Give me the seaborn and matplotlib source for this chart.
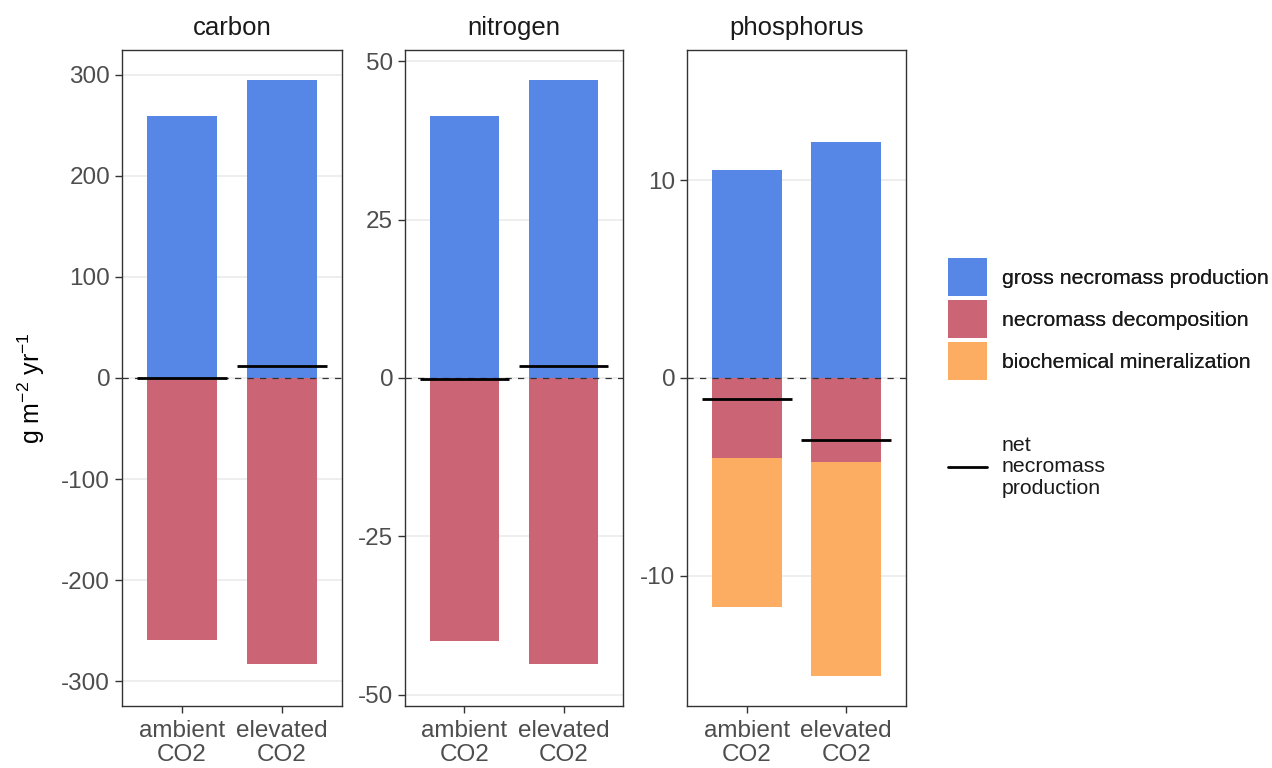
import numpy as np
import pandas as pd
import matplotlib
matplotlib.use("Agg")
import matplotlib.pyplot as plt
from matplotlib.patches import Patch
from matplotlib.lines import Line2D
import seaborn as sns

# ---- data ----
elements = ["carbon", "nitrogen", "phosphorus"]
treatments = ["ambient\nCO2", "elevated\nCO2"]
gross_production = {"carbon": [259, 295], "nitrogen": [41.4, 47.1], "phosphorus": [10.52, 11.96]}
decomposition = {"carbon": [259, 283], "nitrogen": [41.6, 45.2], "phosphorus": [4.04, 4.23]}
mineralization = {"carbon": [0, 0], "nitrogen": [0, 0], "phosphorus": [7.55, 10.85]}
y_ticks = {"carbon": [-300, -200, -100, 0, 100, 200, 300],
           "nitrogen": [-50, -25, 0, 25, 50],
           "phosphorus": [-10, 0, 10]}

legend_labels = ["gross necromass production", "necromass decomposition", "biochemical mineralization"]
net_label = "net\nnecromass\nproduction"

c_blue = "#5686E6"
c_red = "#CB6576"
c_orange = "#FCAD62"

sns.set_theme(style="white")
plt.rcParams["font.family"] = ["Liberation Sans", "DejaVu Sans"]
plt.rcParams["axes.unicode_minus"] = False
plt.rcParams["mathtext.fontset"] = "custom"
plt.rcParams["mathtext.rm"] = "Liberation Sans"
plt.rcParams["mathtext.it"] = "Liberation Sans"

W, H = 1272, 768
fig = plt.figure(figsize=(W / 100, H / 100), dpi=100)

panels = {"carbon": (122, 342), "nitrogen": (405, 623), "phosphorus": (687, 906)}
top_px, bot_px = 50, 706

TICK_FS = 17.5
for el in elements:
    l, r = panels[el]
    ax = fig.add_axes([l / W, (H - bot_px) / H, (r - l) / W, (bot_px - top_px) / H])
    gp = np.array(gross_production[el], dtype=float)
    dc = np.array(decomposition[el], dtype=float)
    mn = np.array(mineralization[el], dtype=float)
    net = gp - dc - mn
    df = pd.DataFrame({"treatment": treatments, "gross": gp,
                       "neg_total": -(dc + mn), "neg_dec": -dc})
    sns.barplot(data=df, x="treatment", y="gross", order=treatments, color=c_blue,
                saturation=1, width=0.7, linewidth=0, ax=ax, zorder=2)
    sns.barplot(data=df, x="treatment", y="neg_total", order=treatments, color=c_orange,
                saturation=1, width=0.7, linewidth=0, ax=ax, zorder=2)
    sns.barplot(data=df, x="treatment", y="neg_dec", order=treatments, color=c_red,
                saturation=1, width=0.7, linewidth=0, ax=ax, zorder=2)
    ax.axhline(0, color="#333333", lw=0.9, ls=(0, (5, 5)), zorder=3)
    xs = np.arange(len(treatments))
    ax.hlines(net, xs - 0.45, xs + 0.45, color="black", lw=2.0, zorder=4)

    lim = np.max(np.abs(np.concatenate([gp, -(dc + mn)]))) * 1.1
    ax.set_ylim(-lim, lim)
    ax.set_xlim(-0.6, 1.6)
    ax.set_yticks(y_ticks[el])
    ax.set_yticklabels([str(t) for t in y_ticks[el]])
    ax.yaxis.grid(True, color="#EBEBEB", lw=1.2, zorder=0)
    ax.xaxis.grid(False)
    ax.set_axisbelow(True)
    for s in ax.spines.values():
        s.set_color("#333333")
        s.set_linewidth(1.0)
    ax.tick_params(axis="both", which="major", length=5, width=1, color="#333333",
                   labelsize=TICK_FS, labelcolor="#4D4D4D", bottom=True, left=True)
    ax.tick_params(axis="y", pad=3.5)
    ax.tick_params(axis="x", pad=5)
    for t in ax.get_xticklabels():
        t.set_linespacing(1.12)
    ax.set_xlabel("")
    ax.set_ylabel("")
    ax.set_title(el, fontsize=18.5, color="#1A1A1A", pad=11)
    if el == "carbon":
        ax.set_ylabel(r"g m$^{-2}$ yr$^{-1}$", fontsize=18, color="black")
        ax.yaxis.set_label_coords(-0.34, 0.485)

LEG_FS = 15.3
key_h_pt = 38 * 0.72
key_w_pt = 39 * 0.72
hh = (key_h_pt / LEG_FS - 0.245) / 0.65
handles = [Patch(facecolor=c, edgecolor="none") for c in (c_blue, c_red, c_orange)]
leg1 = fig.legend(handles, legend_labels, loc="upper left",
                  bbox_to_anchor=(948 / W, 1 - 258 / H), frameon=False,
                  fontsize=LEG_FS, handlelength=key_w_pt / LEG_FS, handleheight=hh,
                  labelspacing=(4 * 0.72) / LEG_FS, handletextpad=(15 * 0.72) / LEG_FS,
                  borderaxespad=0, borderpad=0)
for t in leg1.get_texts():
    t.set_color("#1A1A1A")
leg2 = fig.legend([Line2D([0], [0], color="black", lw=2)], [net_label], loc="upper left",
                  bbox_to_anchor=(948 / W, 1 - 436 / H), frameon=False,
                  fontsize=LEG_FS, handlelength=key_w_pt / LEG_FS,
                  handletextpad=(15 * 0.72) / LEG_FS, borderaxespad=0, borderpad=0)
for t in leg2.get_texts():
    t.set_color("#1A1A1A")
    t.set_linespacing(1.15)
fig.add_artist(leg1)

fig.savefig("out.png", dpi=100)
